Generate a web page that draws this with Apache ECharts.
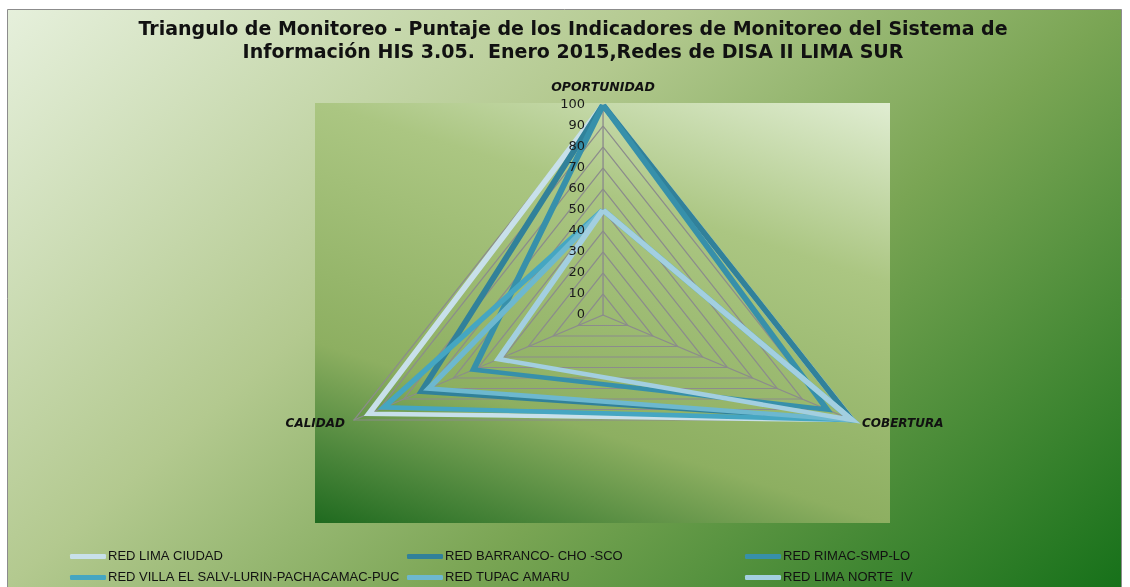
<!DOCTYPE html>
<html>
<head>
<meta charset="utf-8">
<script src="https://cdn.jsdelivr.net/npm/echarts@6/dist/echarts.min.js"></script>
<style>
  html, body { margin: 0; padding: 0; background: #fff; }
  #wrap { position: relative; width: 1130px; height: 587px; overflow: hidden; }
  #bg, #front { position: absolute; left: 0; top: 0; width: 1130px; height: 587px; }
  /* excel stretched the triangle sideways, echarts radar is always round */
  #radar { position: absolute; left: 0; top: 0; width: 825.4px; height: 587px;
           transform: scaleX(1.369); transform-origin: 0 0; }
</style>
</head>
<body>
<div id="wrap">
  <div id="bg"></div>
  <div id="radar"></div>
  <div id="front"></div>
</div>
<script>
var STRETCH = 1.369;

// data (display order in echarts: top, left, right)
var indicators = ['OPORTUNIDAD', 'CALIDAD', 'COBERTURA'];
var redNames = ['RED LIMA CIUDAD', 'RED BARRANCO- CHO -SCO', 'RED RIMAC-SMP-LO',
                'RED VILLA EL SALV-LURIN-PACHACAMAC-PUC', 'RED TUPAC AMARU', 'RED LIMA NORTE  IV'];
var redLimaCiudad = [100, 94, 100];
var redBarranco   = [100, 73, 100];
var redRimac      = [100, 52, 90];
var redVilla      = [50, 88, 100];
var redTupac      = [50, 70, 100];
var redLimaNorte  = [50, 42, 100];
var tickLabels = ['0', '10', '20', '30', '40', '50', '60', '70', '80', '90', '100'];

var redValues = [redLimaCiudad, redBarranco, redRimac, redVilla, redTupac, redLimaNorte];
var redColors = ['#c8e0ea', '#31819a', '#3790aa', '#45a6c2', '#6db8cf', '#a3cfe0'];

// ---- background layer
var bgChart = echarts.init(document.getElementById('bg'));
bgChart.setOption({
    backgroundColor: '#ffffff',
    graphic: [
        {
            type: 'rect',
            shape: { x: 7.5, y: 9.5, width: 1114, height: 600 },
            style: {
                fill: new echarts.graphic.LinearGradient(7, 9, 769, 890, [
                    { offset: 0, color: '#e6f0dc' },
                    { offset: 0.375, color: '#b3c98f' },
                    { offset: 0.625, color: '#7aa554' },
                    { offset: 1, color: '#17711a' }
                ], true),
                stroke: '#8c8c8c',
                lineWidth: 1
            }
        },
        {
            type: 'rect',
            shape: { x: 315, y: 103, width: 575, height: 420 },
            style: {
                fill: new echarts.graphic.LinearGradient(315, 523, 488, -24, [
                    { offset: 0, color: '#1f6a1f' },
                    { offset: 0.12, color: '#4a853a' },
                    { offset: 0.3, color: '#8daf61' },
                    { offset: 0.7, color: '#abc682' },
                    { offset: 1, color: '#e0edd2' }
                ], true)
            }
        }
    ]
});

// ---- radar layer (stretched by css)
var radarChart = echarts.init(document.getElementById('radar'), null, { renderer: 'svg' });
var ind = [];
for (var i = 0; i < indicators.length; i++)
    ind.push({ name: indicators[i], min: 0, max: 100 });

var radarData = [];
for (var j = 0; j < redNames.length; j++) {
    radarData.push({
        name: redNames[j],
        value: redValues[j],
        symbol: 'none',
        lineStyle: { color: redColors[j], width: 4.6, join: 'miter' },
        itemStyle: { color: redColors[j] }
    });
}

radarChart.setOption({
    animation: false,
    radar: {
        indicator: ind,
        center: [603 / STRETCH, 315],
        radius: 210,
        startAngle: 90,
        splitNumber: 10,
        shape: 'polygon',
        axisName: { show: false },
        axisLine: { lineStyle: { color: '#8c8c8c', width: 1 } },
        splitLine: { lineStyle: { color: '#8c8c8c', width: 1 } },
        splitArea: { show: false },
        axisTick: { show: false },
        axisLabel: { show: false }
    },
    series: [
        {
            type: 'radar',
            data: radarData
        }
    ]
});

// ---- front layer: title, legend, tick labels, axis names
var frontChart = echarts.init(document.getElementById('front'));
var dummy = [];
for (var k = 0; k < redNames.length; k++) {
    dummy.push({ name: redNames[k], type: 'line', data: [], color: redColors[k] });
}
var legendCommon = {
    orient: 'vertical',
    top: 550,
    height: 40,
    padding: 0,
    itemGap: 8,
    itemWidth: 36,
    itemHeight: 5,
    icon: 'roundRect',
    textStyle: { color: '#111', fontSize: 13, fontFamily: 'Liberation Sans', padding: [0, 0, 0, -3] }
};
var axisNameStyle = { fill: '#111', fontSize: 12, fontWeight: 'bold', fontStyle: 'italic', fontFamily: 'DejaVu Sans' };

frontChart.setOption({
    animation: false,
    backgroundColor: 'transparent',
    title: {
        text: 'Triangulo de Monitoreo - Puntaje de los Indicadores de Monitoreo del Sistema de\nInformación HIS 3.05.  Enero 2015,Redes de DISA II LIMA SUR',
        left: 568,
        textAlign: 'center',
        top: 14,
        textStyle: { color: '#111', fontSize: 19, fontWeight: 'bold', fontFamily: 'DejaVu Sans', lineHeight: 23 }
    },
    legend: [
        Object.assign({ left: 70, data: [redNames[0], redNames[3]] }, legendCommon),
        Object.assign({ left: 407, data: [redNames[1], redNames[4]] }, legendCommon),
        Object.assign({ left: 745, data: [redNames[2], redNames[5]] }, legendCommon)
    ],
    grid: { left: 603, top: 105, width: 1, height: 210 },
    xAxis: { type: 'value', show: false },
    yAxis: {
        type: 'value',
        min: 0,
        max: 100,
        interval: 10,
        axisLine: { show: false },
        axisTick: { show: false },
        splitLine: { show: false },
        axisLabel: {
            margin: 18,
            color: '#1a1a1a',
            fontSize: 13,
            fontFamily: 'DejaVu Sans',
            formatter: function (v) { return tickLabels[Math.round(v / 10)]; }
        }
    },
    graphic: [
        { type: 'text', x: 603, y: 88, style: Object.assign({ text: indicators[0], align: 'center', verticalAlign: 'middle', fontSize: 12.5 }, axisNameStyle, { fontSize: 12.5 }) },
        { type: 'text', x: 345, y: 424, style: Object.assign({ text: indicators[1], align: 'right', verticalAlign: 'middle' }, axisNameStyle) },
        { type: 'text', x: 862, y: 424, style: Object.assign({ text: indicators[2], align: 'left', verticalAlign: 'middle' }, axisNameStyle) }
    ],
    series: dummy
});
</script>
</body>
</html>
